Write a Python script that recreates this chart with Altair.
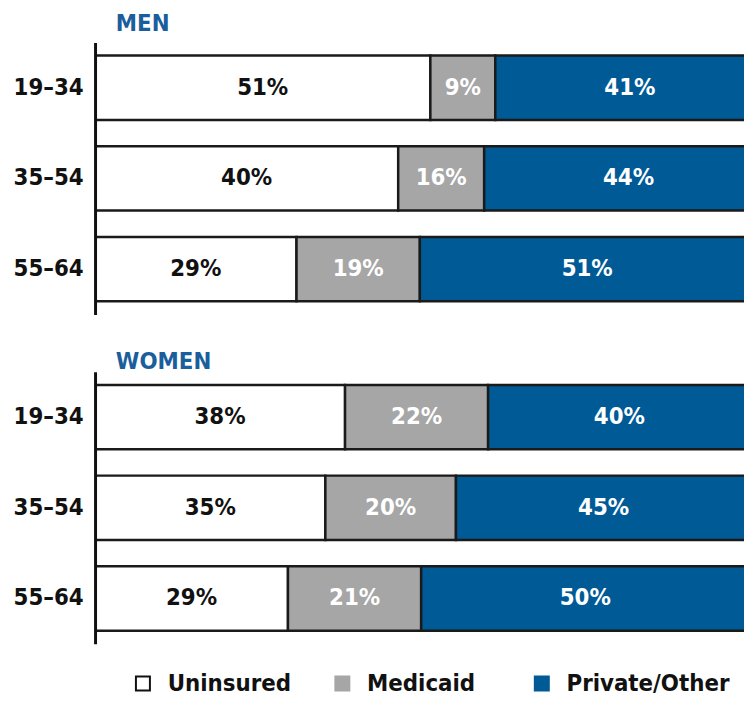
import altair as alt
import pandas as pd

FONT = "DejaVu Sans Condensed, DejaVu Sans, sans-serif"

ages = ["19–34", "35–54", "55–64"]
categories = ["Uninsured", "Medicaid", "Private/Other"]
colors = ["#ffffff", "#a6a6a6", "#005a96"]
text_colors = ["#111111", "#ffffff", "#ffffff"]

# bar lengths (percent) as drawn
men_uninsured = [51.1, 46.2, 30.7]
men_medicaid = [9.9, 13.1, 18.8]
men_private = [41, 44, 51]
women_uninsured = [38.1, 35.1, 29.4]
women_medicaid = [21.8, 19.9, 20.3]
women_private = [40, 45, 50]

# printed labels
men_labels = [["51%", "9%", "41%"], ["40%", "16%", "44%"], ["29%", "19%", "51%"]]
women_labels = [["38%", "22%", "40%"], ["35%", "20%", "45%"], ["29%", "21%", "50%"]]

rows = []
for group, vals, labs in [
    ("MEN", [men_uninsured, men_medicaid, men_private], men_labels),
    ("WOMEN", [women_uninsured, women_medicaid, women_private], women_labels),
]:
    for ai, age in enumerate(ages):
        for ci, cat in enumerate(categories):
            rows.append({"group": group, "age": age, "category": cat, "order": ci,
                         "value": vals[ci][ai], "label": labs[ai][ci]})
df = pd.DataFrame(rows)

legend_df = pd.DataFrame({"category": categories})


def panel(group, title_offset):
    base = (
        alt.Chart(df)
        .transform_filter(alt.datum.group == group)
        .transform_stack(stack="value", as_=["x0", "x1"], groupby=["age"],
                         sort=[alt.SortField("order", order="ascending")])
        .transform_calculate(mid="(datum.x0 + datum.x1) / 2")
    )
    y = alt.Y("age:N", sort=ages, title=None,
              scale=alt.Scale(paddingInner=0.29, paddingOuter=0.145),
              axis=alt.Axis(labelFont=FONT, labelFontSize=24, labelFontWeight="bold",
                            labelColor="#111111", ticks=False, labelPadding=12,
                            domainColor="#111111", domainWidth=3, grid=False, zindex=1))
    xscale = alt.Scale(domain=[0, 98.9], nice=False, zero=True)
    bars = base.mark_bar(stroke="#1a1a1a", strokeWidth=2.5, clip=True).encode(
        x=alt.X("x0:Q", scale=xscale, axis=None),
        x2="x1:Q",
        y=y,
        color=alt.Color("category:N", scale=alt.Scale(domain=categories, range=colors), legend=None),
    )
    texts = base.mark_text(font=FONT, fontSize=24, fontWeight="bold").encode(
        x=alt.X("mid:Q", scale=xscale, axis=None),
        y=y,
        text="label:N",
        color=alt.Color("category:N", scale=alt.Scale(domain=categories, range=text_colors), legend=None),
    )
    return alt.layer(bars, texts).resolve_scale(color="independent").properties(
        width=656, height=275,
        title=alt.TitleParams(group, anchor="start", frame="group", dx=21, offset=title_offset,
                              font=FONT, fontSize=24, fontWeight="bold", color="#1a5e9c"),
    )


legend_x = alt.X("category:N", sort=categories, axis=None,
                 scale=alt.Scale(type="point", padding=0.24))
leg_sq = alt.Chart(legend_df).mark_square(size=200, strokeWidth=2, opacity=1).encode(
    x=legend_x,
    y=alt.value(12),
    fill=alt.Color("category:N", scale=alt.Scale(domain=categories, range=colors), legend=None),
    stroke=alt.Color("category:N", scale=alt.Scale(domain=categories, range=["#111111", "#a6a6a6", "#005a96"]), legend=None),
)
leg_tx = alt.Chart(legend_df).mark_text(align="left", baseline="middle", dx=25, font=FONT,
                                        fontSize=24, fontWeight="bold", color="#111111").encode(
    x=legend_x,
    y=alt.value(13),
    text="category:N",
)
legend = alt.layer(leg_sq, leg_tx).properties(width=500, height=24)

top = panel("MEN", 7)
bottom = panel("WOMEN", -2)
chart = alt.vconcat(
    alt.vconcat(top, bottom, spacing=36),
    legend,
    spacing=28,
).properties(
    padding={"left": 5, "top": 0, "right": 0, "bottom": 0}
).configure_view(stroke=None)

chart.save("out.html", embed_options={"renderer": "svg", "actions": False})
